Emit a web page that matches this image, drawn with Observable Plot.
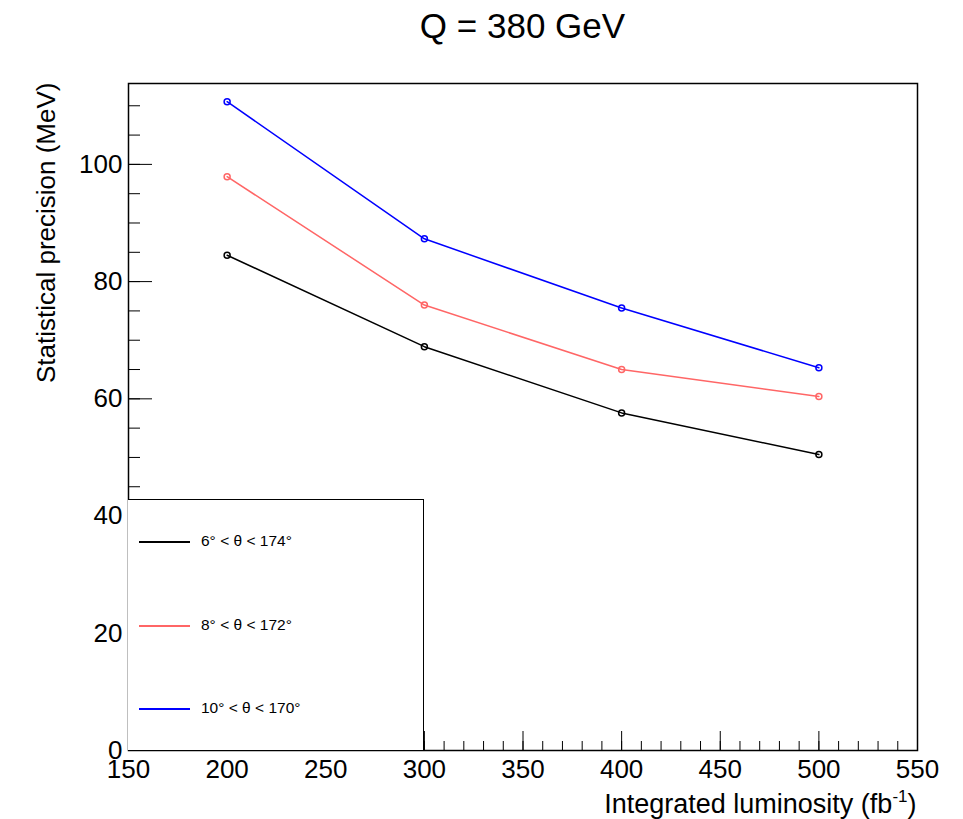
<!DOCTYPE html>
<html>
<head>
<meta charset="utf-8">
<script src="https://cdn.jsdelivr.net/npm/d3@7"></script>
<script src="https://cdn.jsdelivr.net/npm/@observablehq/plot@0.6"></script>
<style>
  html, body { margin: 0; padding: 0; background: #fff; }
  #wrap { position: relative; width: 963px; height: 819px; font-family: "Liberation Sans", Arial, Helvetica, sans-serif; }
  #title { height: 60px; position: relative; }
  #title span { position: absolute; left: 128px; width: 789px; top: 8px; text-align: center; font-size: 35px; line-height: 1; }
  #legend { position: absolute; left: 128px; top: 499px; width: 295px; height: 250px; background: #fff;
            border-top: 1.5px solid #000; border-right: 1.5px solid #000; }
  .entry { position: absolute; left: 0; height: 0; }
  .entry .ln { position: absolute; left: 11px; width: 51px; top: -1px; height: 2px; }
  .entry .tx { position: absolute; left: 73px; top: -9px; font-size: 15.5px; line-height: 1; white-space: nowrap; }
</style>
</head>
<body>
<div id="wrap">
  <div id="title"><span>Q = 380 GeV</span></div>
  <div id="chart"></div>
  <div id="legend"></div>
</div>
<script>
// ---- data ----
const lumi = [200, 300, 400, 500];
const prec6 = [84.5, 68.9, 57.6, 50.5];   // 6° < θ < 174°
const prec8 = [97.9, 76.0, 65.0, 60.4];   // 8° < θ < 172°
const prec10 = [110.7, 87.3, 75.5, 65.3]; // 10° < θ < 170°
const seriesNames = ["6° < θ < 174°", "8° < θ < 172°", "10° < θ < 170°"];
const seriesColors = ["#000000", "#ff6666", "#0000ff"];
const xTickLabels = [150, 200, 250, 300, 350, 400, 450, 500, 550];
const yTickLabels = [0, 20, 40, 60, 80, 100];
const xMinorTicks = d3.range(150, 551, 10);
const yMinorTicks = d3.range(0, 114, 5);

const seriesValues = [prec6, prec8, prec10];
const rows = seriesValues.flatMap((vals, i) => lumi.map((x, j) => ({x, y: vals[j], s: seriesNames[i]})));

const frameW = 963 - 128 - 46;
const frameH = 759 - 23 - 69;

const marks = [];
// ticks (inward)
marks.push(Plot.tickX(xMinorTicks, {x: d => d, insetTop: frameH - 9, stroke: "#000", strokeWidth: 1}));
marks.push(Plot.tickX(xTickLabels, {x: d => d, insetTop: frameH - 19, stroke: "#000", strokeWidth: 1}));
marks.push(Plot.tickY(yMinorTicks, {y: d => d, insetRight: frameW - 12, stroke: "#000", strokeWidth: 1}));
marks.push(Plot.tickY(yTickLabels, {y: d => d, insetRight: frameW - 24, stroke: "#000", strokeWidth: 1}));
// series
seriesNames.forEach((name, i) => {
  const d = rows.filter(r => r.s === name);
  marks.push(Plot.line(d, {x: "x", y: "y", stroke: seriesColors[i], strokeWidth: 1.5}));
  marks.push(Plot.dot(d, {x: "x", y: "y", r: 3, stroke: seriesColors[i], fill: "none", strokeWidth: 1.5}));
});
marks.push(Plot.frame({stroke: "#000", strokeWidth: 1.5}));
// tick labels
marks.push(Plot.text(xTickLabels, {x: d => d, text: d => String(d), frameAnchor: "bottom", dy: 19, lineAnchor: "middle", fontSize: 26, fill: "#000"}));
marks.push(Plot.text(yTickLabels, {y: d => d, text: d => String(d), frameAnchor: "left", textAnchor: "end", dx: -6, lineAnchor: "middle", fontSize: 26, fill: "#000"}));
// axis titles
marks.push(Plot.text(["Integrated luminosity (fb-1)"], {frameAnchor: "bottom-right", textAnchor: "end", dx: -1, dy: 54, lineAnchor: "middle", fontSize: 27, fill: "#000"}));
marks.push(Plot.text(["Statistical precision (MeV)"], {frameAnchor: "top-left", rotate: -90, textAnchor: "end", dx: -82, dy: -1, lineAnchor: "middle", fontSize: 26, fill: "#000"}));

const chart = Plot.plot({
  width: 963,
  height: 759,
  marginLeft: 128,
  marginRight: 46,
  marginTop: 23,
  marginBottom: 69,
  x: {domain: [150, 550], axis: null},
  y: {domain: [0, 113.8], axis: null},
  style: {fontFamily: "'Liberation Sans', Arial, Helvetica, sans-serif", background: "transparent", overflow: "visible"},
  marks
});
document.getElementById("chart").appendChild(chart);

// superscript in x-axis title
chart.querySelectorAll("text").forEach(t => {
  if (t.textContent === "Integrated luminosity (fb-1)") {
    t.textContent = "";
    const ns = "http://www.w3.org/2000/svg";
    const a = document.createElementNS(ns, "tspan"); a.textContent = "Integrated luminosity (fb";
    const b = document.createElementNS(ns, "tspan"); b.textContent = "-1"; b.setAttribute("font-size", "17"); b.setAttribute("dy", "-11");
    const c = document.createElementNS(ns, "tspan"); c.textContent = ")"; c.setAttribute("dy", "11");
    t.append(a, b, c);
  }
});

// legend
const legend = document.getElementById("legend");
const entryY = [42, 126, 209];
seriesNames.forEach((name, i) => {
  const e = document.createElement("div");
  e.className = "entry";
  e.style.top = entryY[i] + "px";
  const ln = document.createElement("div"); ln.className = "ln"; ln.style.backgroundColor = seriesColors[i];
  const tx = document.createElement("div"); tx.className = "tx"; tx.textContent = name;
  e.append(ln, tx);
  legend.appendChild(e);
});
</script>
</body>
</html>
